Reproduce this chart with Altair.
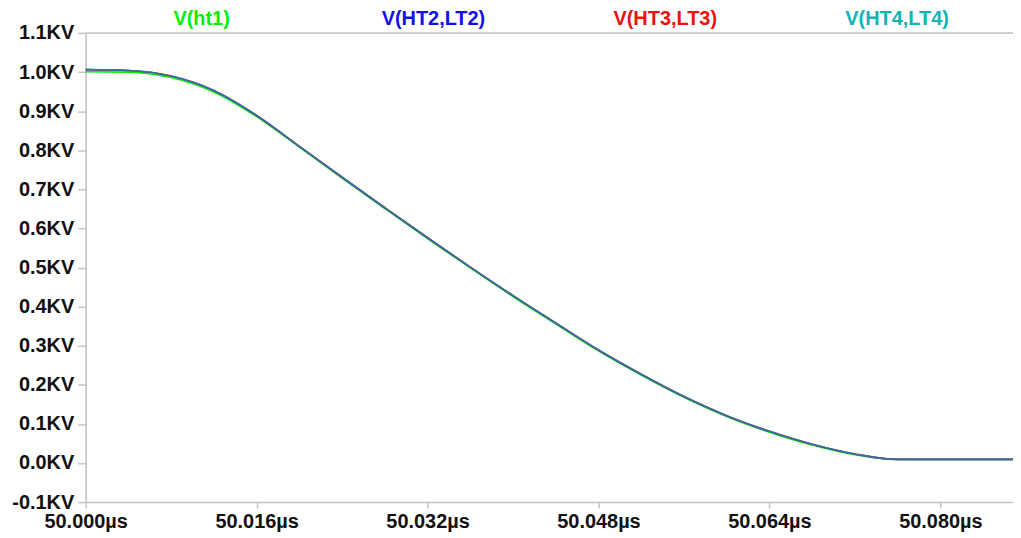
import altair as alt
import pandas as pd

# time offset after 50 µs (in µs) and voltages (in KV)
t_off = [0.000, 0.004, 0.008, 0.012, 0.016, 0.020, 0.024, 0.028, 0.032, 0.036,
         0.040, 0.044, 0.048, 0.052, 0.056, 0.060, 0.064, 0.068, 0.072, 0.076,
         0.080, 0.0868]
v_ht1 = [1.001, 1.000, 0.986, 0.949, 0.886, 0.808, 0.729, 0.651, 0.574, 0.499,
         0.426, 0.356, 0.287, 0.225, 0.168, 0.119, 0.079, 0.046, 0.021, 0.009,
         0.009, 0.009]
v_ht2 = [1.006, 1.004, 0.990, 0.953, 0.889, 0.810, 0.731, 0.653, 0.576, 0.501,
         0.428, 0.358, 0.289, 0.227, 0.170, 0.121, 0.081, 0.048, 0.023, 0.009,
         0.009, 0.009]
v_ht3 = [1.006, 1.004, 0.990, 0.953, 0.889, 0.810, 0.731, 0.653, 0.576, 0.501,
         0.428, 0.358, 0.289, 0.227, 0.170, 0.121, 0.081, 0.048, 0.023, 0.009,
         0.009, 0.009]
v_ht4 = [1.006, 1.004, 0.990, 0.953, 0.889, 0.810, 0.731, 0.653, 0.576, 0.501,
         0.428, 0.358, 0.289, 0.227, 0.170, 0.121, 0.081, 0.048, 0.023, 0.009,
         0.009, 0.009]

names = ["V(ht1)", "V(HT2,LT2)", "V(HT3,LT3)", "V(HT4,LT4)"]
colors = ["#00f000", "#1010e6", "#f01010", "#10b4b4"]
opacities = [1.0, 1.0, 0.5, 0.55]
series = [v_ht1, v_ht2, v_ht3, v_ht4]

x_ticks = [50.000, 50.016, 50.032, 50.048, 50.064, 50.080]
y_ticks = [-0.1, 0.0, 0.1, 0.2, 0.3, 0.4, 0.5, 0.6, 0.7, 0.8, 0.9, 1.0, 1.1]

FONT = "Liberation Sans"
FS = 20

rows = []
for n, vals in zip(names, series):
    for t, v in zip(t_off, vals):
        rows.append({"t": round(50.0 + t, 5), "v": v, "name": n})
df = pd.DataFrame(rows)

xscale = alt.Scale(domain=[50.0, 50.0868], nice=False, zero=False)
yscale = alt.Scale(domain=[-0.1, 1.1], nice=False, zero=False)
cscale = alt.Scale(domain=names, range=colors)

xaxis = alt.Axis(values=x_ticks, title=None, grid=False,
                 labelExpr="format(datum.value, '.3f') + 'µs'",
                 labelFont=FONT, labelFontSize=FS, labelFontWeight="bold",
                 labelColor="#111111", labelPadding=4,
                 domainColor="#c4c4c4", domainWidth=1.5,
                 tickColor="#c4c4c4", tickSize=6, tickWidth=1.5, labelFlush=False)
yaxis = alt.Axis(values=y_ticks, title=None, grid=False,
                 labelExpr="replace(format(datum.value, '.1f'), '−', '-') + 'KV'",
                 labelFont=FONT, labelFontSize=FS, labelFontWeight="bold",
                 labelColor="#111111", labelPadding=4,
                 domainColor="#c4c4c4", domainWidth=1.5,
                 tickColor="#c4c4c4", tickSize=8, tickWidth=1.5)

layers = []
# top frame line
top = alt.Chart(pd.DataFrame({"v": [1.1]})).mark_rule(color="#c4c4c4", strokeWidth=1.5).encode(
    y=alt.Y("v:Q", scale=yscale, axis=yaxis)
)
layers.append(top)

for i, (n, op) in enumerate(zip(names, opacities)):
    ln = alt.Chart(df[df["name"] == n]).mark_line(
        strokeWidth=1.7, opacity=op, interpolate="monotone"
    ).encode(
        x=alt.X("t:Q", scale=xscale, axis=xaxis),
        y=alt.Y("v:Q", scale=yscale, axis=yaxis),
        color=alt.Color("name:N", scale=cscale, legend=None),
    )
    layers.append(ln)

lines = alt.layer(*layers)

titles = alt.Chart(pd.DataFrame({"name": names})).mark_text(
    font=FONT, fontSize=FS, fontWeight="bold", baseline="middle", align="center"
).encode(
    x=alt.X("name:N", scale=alt.Scale(domain=names), axis=None),
    y=alt.value(-14),
    text="name:N",
    color=alt.Color("name:N", scale=cscale, legend=None),
)

chart = alt.layer(lines, titles).resolve_scale(x="independent").properties(
    width=931, height=471,
    autosize=alt.AutoSizeParams(type="none"),
    padding={"left": 78, "top": 24, "right": 0, "bottom": 32},
).configure_view(stroke=None).configure(background="white")

chart.save("out.html", embed_options={"renderer": "svg", "actions": False})
